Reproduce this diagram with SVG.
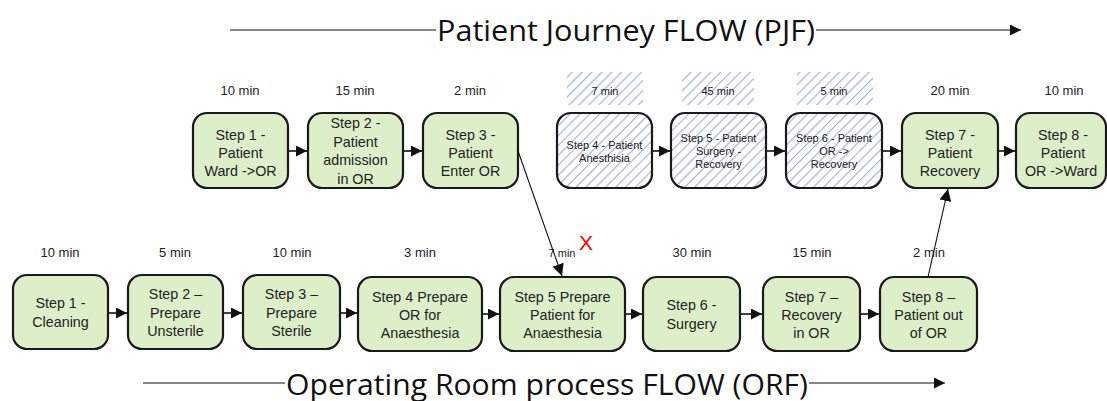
<svg xmlns="http://www.w3.org/2000/svg" width="1107" height="401" viewBox="0 0 1107 401">
<defs>
<style>
.box{fill:#ddefc9;stroke:#1a1a1a;stroke-width:2.2}
.hbox{fill:url(#hatch);stroke:#1a1a1a;stroke-width:2.2}
.t{font-family:"Liberation Sans",Arial,sans-serif;font-size:14.3px;fill:#222;text-anchor:middle}
.ts{font-family:"Liberation Sans",Arial,sans-serif;font-size:11px;fill:#222;text-anchor:middle}
.tm{font-family:"Liberation Sans",Arial,sans-serif;font-size:13px;fill:#222;text-anchor:middle}
.title{font-family:"Open Sans",sans-serif;font-size:29px;fill:#111}
.conn{stroke:#111;stroke-width:1.6;fill:none}
.thin{stroke:#111;stroke-width:1.1;fill:none}
</style>
<pattern id="hatch" patternUnits="userSpaceOnUse" width="7" height="7" patternTransform="rotate(45)">
<rect width="7" height="7" fill="#ffffff"/>
<line x1="0" y1="0" x2="0" y2="7" stroke="#9fb5d8" stroke-width="2.4"/>
</pattern>
<marker id="ah" viewBox="0 0 10 10" refX="10" refY="5" markerWidth="12" markerHeight="11" markerUnits="userSpaceOnUse" orient="auto">
<path d="M0,0 L10,5 L0,10 z" fill="#111"/>
</marker>
<marker id="ahs" viewBox="0 0 10 10" refX="10" refY="5" markerWidth="12" markerHeight="12" markerUnits="userSpaceOnUse" orient="auto">
<path d="M0,0 L10,5 L0,10 z" fill="#111"/>
</marker>
</defs>

<!-- titles -->
<g id="title-pjf">
<line x1="230" y1="30" x2="436" y2="30" class="thin"/>
<text x="437" y="41" class="title" textLength="378" lengthAdjust="spacingAndGlyphs">Patient Journey FLOW (PJF)</text>
<line x1="816" y1="30" x2="1021" y2="30" class="thin" marker-end="url(#ah)"/>
</g>
<g id="title-orf">
<line x1="143" y1="383" x2="285" y2="383" class="thin"/>
<text x="286" y="395" class="title" textLength="522" lengthAdjust="spacingAndGlyphs">Operating Room process FLOW (ORF)</text>
<line x1="809" y1="383" x2="945" y2="383" class="thin" marker-end="url(#ah)"/>
</g>

<!-- hatched label areas -->
<g id="hatch-labels">
<rect x="567" y="72" width="76" height="33" fill="url(#hatch)"/>
<text x="605" y="95" class="ts">7 min</text>
<rect x="682" y="72" width="72" height="33" fill="url(#hatch)"/>
<text x="718" y="95" class="ts">45 min</text>
<rect x="797" y="72" width="76" height="33" fill="url(#hatch)"/>
<text x="834" y="95" class="ts">5 min</text>
</g>

<!-- top row PJF -->
<g id="pjf1"><text x="240" y="95" class="tm">10 min</text><rect x="193" y="113" width="95" height="75" rx="14" class="box"/>
<text class="t"><tspan x="240.5" y="140">Step 1 -</tspan><tspan x="240.5" y="158">Patient</tspan><tspan x="240.5" y="176">Ward -&gt;OR</tspan></text></g>
<g id="pjf2"><text x="355" y="95" class="tm">15 min</text><rect x="308" y="113" width="95" height="75" rx="14" class="box"/>
<text class="t"><tspan x="355.5" y="128">Step 2 -</tspan><tspan x="355.5" y="147">Patient</tspan><tspan x="355.5" y="165">admission</tspan><tspan x="355.5" y="184">in OR</tspan></text></g>
<g id="pjf3"><text x="470" y="95" class="tm">2 min</text><rect x="423" y="113" width="95" height="75" rx="14" class="box"/>
<text class="t"><tspan x="470.5" y="140">Step 3 -</tspan><tspan x="470.5" y="158">Patient</tspan><tspan x="470.5" y="176">Enter OR</tspan></text></g>
<g id="pjf4"><rect x="557" y="113" width="95" height="75" rx="14" class="hbox"/>
<text class="ts"><tspan x="604.5" y="149">Step 4 - Patient</tspan><tspan x="604.5" y="162">Anesthisia</tspan></text></g>
<g id="pjf5"><rect x="671" y="113" width="95" height="75" rx="14" class="hbox"/>
<text class="ts"><tspan x="718.5" y="142">Step 5 - Patient</tspan><tspan x="718.5" y="155">Surgery -</tspan><tspan x="718.5" y="168">Recovery</tspan></text></g>
<g id="pjf6"><rect x="786" y="113" width="96" height="75" rx="14" class="hbox"/>
<text class="ts"><tspan x="834" y="142">Step 6 - Patient</tspan><tspan x="834" y="155">OR -&gt;</tspan><tspan x="834" y="168">Recovery</tspan></text></g>
<g id="pjf7"><text x="950" y="95" class="tm">20 min</text><rect x="902" y="113" width="96" height="75" rx="14" class="box"/>
<text class="t"><tspan x="950" y="140">Step 7 -</tspan><tspan x="950" y="158">Patient</tspan><tspan x="950" y="176">Recovery</tspan></text></g>
<g id="pjf8"><text x="1064" y="95" class="tm">10 min</text><rect x="1016" y="113" width="90" height="75" rx="14" class="box"/>
<text class="t"><tspan x="1063" y="140">Step 8 -</tspan><tspan x="1063" y="158">Patient</tspan><tspan x="1061" y="176">OR -&gt;Ward</tspan></text></g>

<!-- bottom row ORF -->
<g id="orf1"><text x="60" y="257" class="tm">10 min</text><rect x="13" y="275" width="95" height="74" rx="14" class="box"/>
<text class="t"><tspan x="60.5" y="308">Step 1 -</tspan><tspan x="60.5" y="327">Cleaning</tspan></text></g>
<g id="orf2"><text x="175" y="257" class="tm">5 min</text><rect x="128" y="275" width="95" height="74" rx="14" class="box"/>
<text class="t"><tspan x="175.5" y="299">Step 2 –</tspan><tspan x="175.5" y="318">Prepare</tspan><tspan x="175.5" y="336">Unsterile</tspan></text></g>
<g id="orf3"><text x="292" y="257" class="tm">10 min</text><rect x="243" y="275" width="97" height="74" rx="14" class="box"/>
<text class="t"><tspan x="291.5" y="299">Step 3 –</tspan><tspan x="291.5" y="318">Prepare</tspan><tspan x="291.5" y="336">Sterile</tspan></text></g>
<g id="orf4"><text x="420" y="257" class="tm">3 min</text><rect x="358" y="277" width="124" height="74" rx="14" class="box"/>
<text class="t"><tspan x="420" y="302">Step 4 Prepare</tspan><tspan x="420" y="320">OR for</tspan><tspan x="420" y="338">Anaesthesia</tspan></text></g>
<g id="orf5"><text x="562" y="257" class="ts">7 min</text><text x="586" y="250" font-family="Liberation Sans,Arial,sans-serif" font-size="21" fill="#ff0000" text-anchor="middle">X</text>
<rect x="500" y="277" width="125" height="74" rx="14" class="box"/>
<text class="t"><tspan x="562.5" y="302">Step 5 Prepare</tspan><tspan x="562.5" y="320">Patient for</tspan><tspan x="562.5" y="338">Anaesthesia</tspan></text></g>
<g id="orf6"><text x="692" y="257" class="tm">30 min</text><rect x="643" y="277" width="97" height="74" rx="14" class="box"/>
<text class="t"><tspan x="691.5" y="310">Step 6 -</tspan><tspan x="691.5" y="329">Surgery</tspan></text></g>
<g id="orf7"><text x="812" y="257" class="tm">15 min</text><rect x="763" y="277" width="97" height="74" rx="14" class="box"/>
<text class="t"><tspan x="811.5" y="302">Step 7 –</tspan><tspan x="811.5" y="320">Recovery</tspan><tspan x="811.5" y="338">in OR</tspan></text></g>
<g id="orf8"><text x="929" y="257" class="tm">2 min</text><rect x="880" y="277" width="97" height="74" rx="14" class="box"/>
<text class="t"><tspan x="928.5" y="302">Step 8 –</tspan><tspan x="928.5" y="320">Patient out</tspan><tspan x="928.5" y="338">of OR</tspan></text></g>

<!-- connectors -->
<g id="connectors">
<line x1="289" y1="151" x2="307" y2="151" class="conn" marker-end="url(#ah)"/>
<line x1="404" y1="151" x2="422" y2="151" class="conn" marker-end="url(#ah)"/>
<line x1="653" y1="151" x2="670" y2="151" class="conn" marker-end="url(#ah)"/>
<line x1="767" y1="151" x2="785" y2="151" class="conn" marker-end="url(#ah)"/>
<line x1="883" y1="151" x2="901" y2="151" class="conn" marker-end="url(#ah)"/>
<line x1="999" y1="151" x2="1015" y2="151" class="conn" marker-end="url(#ah)"/>
<line x1="109" y1="313" x2="127" y2="313" class="conn" marker-end="url(#ah)"/>
<line x1="224" y1="313" x2="242" y2="313" class="conn" marker-end="url(#ah)"/>
<line x1="341" y1="313" x2="357" y2="313" class="conn" marker-end="url(#ah)"/>
<line x1="483" y1="314" x2="499" y2="314" class="conn" marker-end="url(#ah)"/>
<line x1="626" y1="314" x2="642" y2="314" class="conn" marker-end="url(#ah)"/>
<line x1="741" y1="314" x2="762" y2="314" class="conn" marker-end="url(#ah)"/>
<line x1="861" y1="314" x2="879" y2="314" class="conn" marker-end="url(#ah)"/>
<line x1="518" y1="151" x2="562" y2="276" class="thin" marker-end="url(#ahs)"/>
<line x1="928" y1="277" x2="948" y2="189" class="thin" marker-end="url(#ahs)"/>
</g>
</svg>
